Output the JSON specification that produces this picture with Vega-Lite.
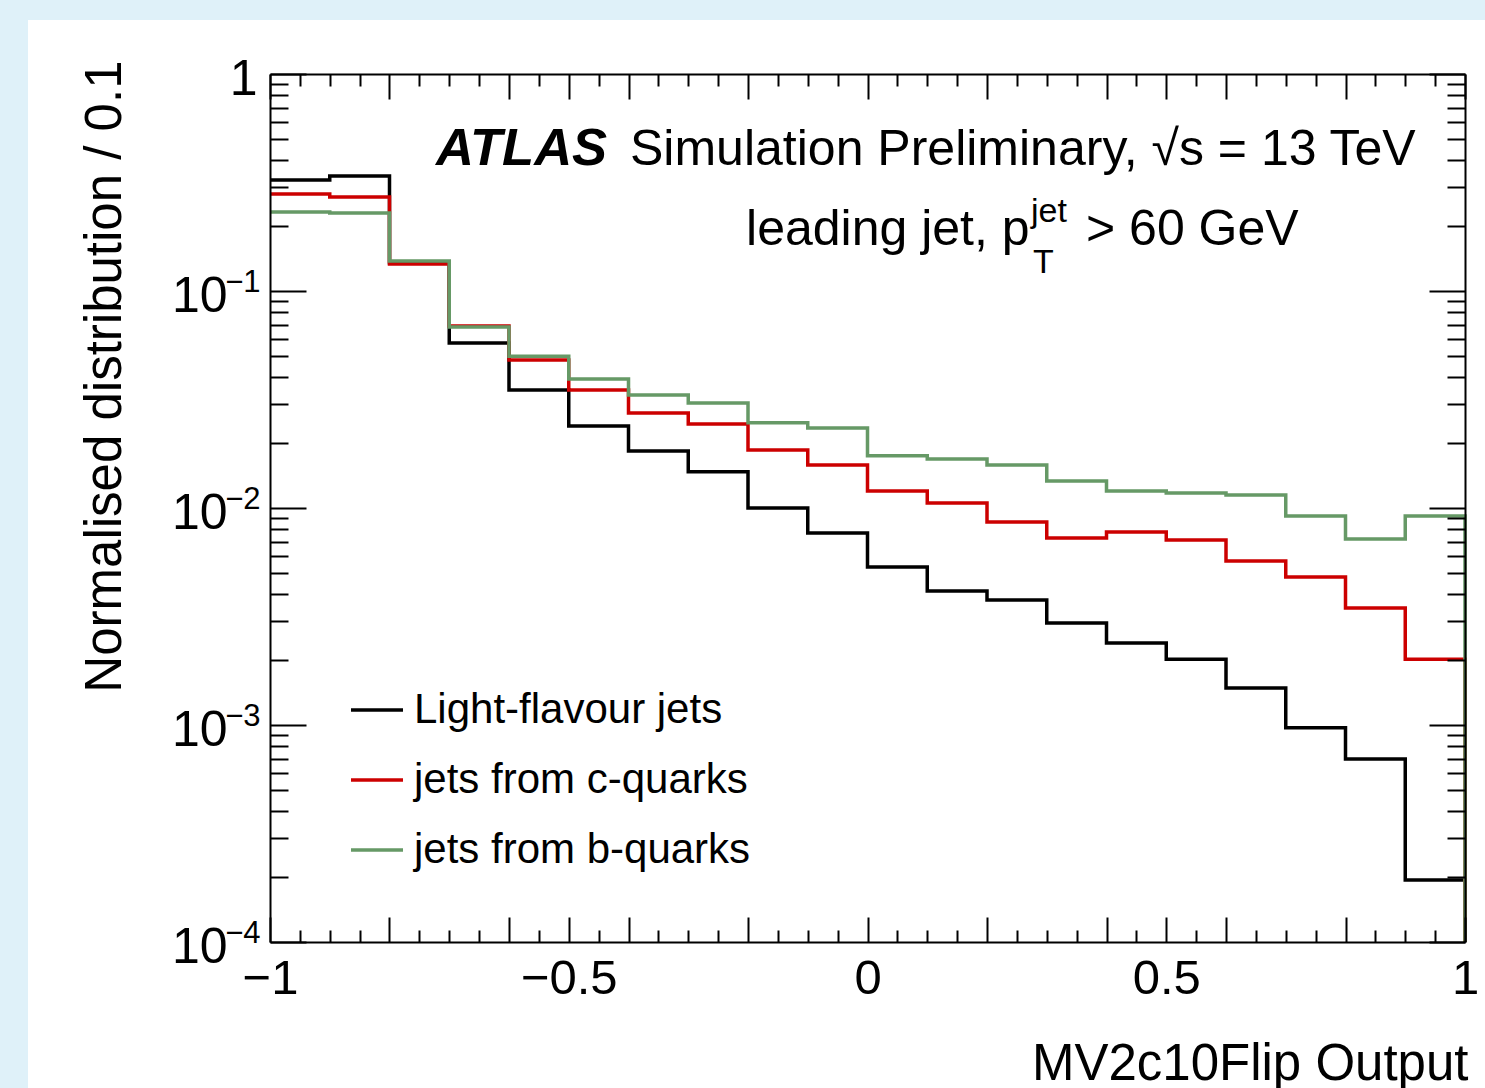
{
  "$schema": "https://vega.github.io/schema/vega-lite/v6.json",
  "width": 1195,
  "height": 868,
  "autosize": {"type": "none"},
  "padding": {"left": 270, "top": 74, "right": 20, "bottom": 146},
  "background": "#dff1f9",
  "config": {
    "view": {"stroke": null},
    "axis": {
      "grid": false,
      "domainColor": "black",
      "domainWidth": 2,
      "tickColor": "black",
      "tickWidth": 2,
      "labelFont": "Liberation Sans",
      "labelColor": "black",
      "titleFont": "Liberation Sans",
      "titleColor": "black",
      "titleFontWeight": "normal",
      "labelOverlap": false,
      "labelFlush": false
    },
    "text": {"font": "Liberation Sans", "color": "black"}
  },
  "resolve": {"axis": {"x": "independent", "y": "independent"}},
  "layer": [
    {
      "data": {"values": [{}]},
      "mark": {"type": "rect", "fill": "white"},
      "encoding": {
        "x": {"datum": -1.405, "type": "quantitative", "scale": {"domain": [-1, 1], "nice": false, "zero": false}, "axis": null},
        "x2": {"datum": 1.2},
        "y": {"datum": 1.774, "type": "quantitative", "scale": {"type": "log", "domain": [0.0001, 1], "nice": false}, "axis": null},
        "y2": {"datum": 0.000001}
      }
    },
    {
      "data": {"values": [
        {"flavour": "Light-flavour jets", "x": -1, "y": 0.325},
        {"flavour": "Light-flavour jets", "x": -0.9, "y": 0.339},
        {"flavour": "Light-flavour jets", "x": -0.8, "y": 0.135},
        {"flavour": "Light-flavour jets", "x": -0.7, "y": 0.0576},
        {"flavour": "Light-flavour jets", "x": -0.6, "y": 0.035},
        {"flavour": "Light-flavour jets", "x": -0.5, "y": 0.0239},
        {"flavour": "Light-flavour jets", "x": -0.4, "y": 0.0183},
        {"flavour": "Light-flavour jets", "x": -0.3, "y": 0.0147},
        {"flavour": "Light-flavour jets", "x": -0.2, "y": 0.0100},
        {"flavour": "Light-flavour jets", "x": -0.1, "y": 0.00767},
        {"flavour": "Light-flavour jets", "x": 0, "y": 0.00535},
        {"flavour": "Light-flavour jets", "x": 0.1, "y": 0.00415},
        {"flavour": "Light-flavour jets", "x": 0.2, "y": 0.00377},
        {"flavour": "Light-flavour jets", "x": 0.3, "y": 0.00295},
        {"flavour": "Light-flavour jets", "x": 0.4, "y": 0.00239},
        {"flavour": "Light-flavour jets", "x": 0.5, "y": 0.00201},
        {"flavour": "Light-flavour jets", "x": 0.6, "y": 0.00148},
        {"flavour": "Light-flavour jets", "x": 0.7, "y": 0.00097},
        {"flavour": "Light-flavour jets", "x": 0.8, "y": 0.000697},
        {"flavour": "Light-flavour jets", "x": 0.9, "y": 0.000193},
        {"flavour": "Light-flavour jets", "x": 1, "y": 0.0001},
        {"flavour": "jets from c-quarks", "x": -1, "y": 0.28},
        {"flavour": "jets from c-quarks", "x": -0.9, "y": 0.271},
        {"flavour": "jets from c-quarks", "x": -0.8, "y": 0.133},
        {"flavour": "jets from c-quarks", "x": -0.7, "y": 0.069},
        {"flavour": "jets from c-quarks", "x": -0.6, "y": 0.0481},
        {"flavour": "jets from c-quarks", "x": -0.5, "y": 0.035},
        {"flavour": "jets from c-quarks", "x": -0.4, "y": 0.0274},
        {"flavour": "jets from c-quarks", "x": -0.3, "y": 0.0244},
        {"flavour": "jets from c-quarks", "x": -0.2, "y": 0.0185},
        {"flavour": "jets from c-quarks", "x": -0.1, "y": 0.0158},
        {"flavour": "jets from c-quarks", "x": 0, "y": 0.01197},
        {"flavour": "jets from c-quarks", "x": 0.1, "y": 0.01054},
        {"flavour": "jets from c-quarks", "x": 0.2, "y": 0.00862},
        {"flavour": "jets from c-quarks", "x": 0.3, "y": 0.00728},
        {"flavour": "jets from c-quarks", "x": 0.4, "y": 0.00775},
        {"flavour": "jets from c-quarks", "x": 0.5, "y": 0.00713},
        {"flavour": "jets from c-quarks", "x": 0.6, "y": 0.0057},
        {"flavour": "jets from c-quarks", "x": 0.7, "y": 0.00481},
        {"flavour": "jets from c-quarks", "x": 0.8, "y": 0.00346},
        {"flavour": "jets from c-quarks", "x": 0.9, "y": 0.00201},
        {"flavour": "jets from c-quarks", "x": 1, "y": 0.0001},
        {"flavour": "jets from b-quarks", "x": -1, "y": 0.231},
        {"flavour": "jets from b-quarks", "x": -0.9, "y": 0.229},
        {"flavour": "jets from b-quarks", "x": -0.8, "y": 0.1375},
        {"flavour": "jets from b-quarks", "x": -0.7, "y": 0.0683},
        {"flavour": "jets from b-quarks", "x": -0.6, "y": 0.0501},
        {"flavour": "jets from b-quarks", "x": -0.5, "y": 0.0393},
        {"flavour": "jets from b-quarks", "x": -0.4, "y": 0.0332},
        {"flavour": "jets from b-quarks", "x": -0.3, "y": 0.0305},
        {"flavour": "jets from b-quarks", "x": -0.2, "y": 0.0247},
        {"flavour": "jets from b-quarks", "x": -0.1, "y": 0.0234},
        {"flavour": "jets from b-quarks", "x": 0, "y": 0.0174},
        {"flavour": "jets from b-quarks", "x": 0.1, "y": 0.0168},
        {"flavour": "jets from b-quarks", "x": 0.2, "y": 0.0158},
        {"flavour": "jets from b-quarks", "x": 0.3, "y": 0.0133},
        {"flavour": "jets from b-quarks", "x": 0.4, "y": 0.01197},
        {"flavour": "jets from b-quarks", "x": 0.5, "y": 0.01173},
        {"flavour": "jets from b-quarks", "x": 0.6, "y": 0.01148},
        {"flavour": "jets from b-quarks", "x": 0.7, "y": 0.00919},
        {"flavour": "jets from b-quarks", "x": 0.8, "y": 0.0072},
        {"flavour": "jets from b-quarks", "x": 0.9, "y": 0.00919},
        {"flavour": "jets from b-quarks", "x": 1, "y": 0.0001}
      ]},
      "mark": {"type": "line", "interpolate": "step-after", "strokeWidth": 3.5, "strokeJoin": "miter", "strokeCap": "butt"},
      "encoding": {
        "x": {
          "field": "x", "type": "quantitative",
          "scale": {"domain": [-1, 1], "nice": false, "zero": false},
          "axis": {
            "zindex": 2,
            "orient": "bottom",
            "values": [-1, -0.8, -0.6, -0.5, -0.4, -0.2, 0, 0.2, 0.4, 0.5, 0.6, 0.8, 1],
            "tickSize": -25,
            "labelExpr": "datum.value == -1 ? '−1' : datum.value == -0.5 ? '−0.5' : datum.value == 0 ? '0' : datum.value == 0.5 ? '0.5' : datum.value == 1 ? '1' : ''",
            "labelFontSize": 49,
            "labelPadding": 76,
            "labelBaseline": "alphabetic",
            "labelAlign": "center",
            "title": "MV2c10Flip Output",
            "titleFontSize": 51,
            "titleAlign": "right",
            "titleBaseline": "alphabetic",
            "titleX": 1198,
            "titleY": 137
          }
        },
        "y": {
          "field": "y", "type": "quantitative",
          "scale": {"type": "log", "domain": [0.0001, 1], "nice": false},
          "axis": {
            "zindex": 2,
            "orient": "left",
            "values": [0.0001, 0.001, 0.01, 0.1, 1],
            "tickSize": -36,
            "labelExpr": "datum.value == 1 ? '' : '10'",
            "labelFontSize": 50,
            "labelPadding": 79,
            "labelAlign": "right",
            "labelBaseline": "middle",
            "labelOffset": 5,
            "title": "Normalised distribution / 0.1",
            "titleFontSize": 51,
            "titleAngle": 270,
            "titleAlign": "right",
            "titleBaseline": "alphabetic",
            "titleX": -150,
            "titleY": -14
          }
        },
        "color": {
          "field": "flavour", "type": "nominal",
          "scale": {"domain": ["Light-flavour jets", "jets from c-quarks", "jets from b-quarks"], "range": ["#000000", "#cc0000", "#669966"]},
          "legend": {
            "orient": "none", "legendX": 79, "legendY": 608, "title": null,
            "symbolType": "stroke", "symbolSize": 2704, "symbolStrokeWidth": 3.5,
            "labelFontSize": 42, "labelFont": "Liberation Sans", "labelColor": "black",
            "labelOffset": 9, "rowPadding": 21, "padding": 0, "labelLimit": 0
          }
        }
      }
    },
    {
      "data": {"values": [{}]},
      "mark": {"type": "text", "text": "ATLAS", "fontSize": 52.5, "fontStyle": "italic", "fontWeight": "bold", "align": "left", "baseline": "alphabetic"},
      "encoding": {
        "x": {"datum": -0.7222, "type": "quantitative", "scale": {"domain": [-1, 1], "nice": false, "zero": false},
          "axis": {"zindex": 2, "orient": "bottom", "values": [-0.95, -0.9, -0.85, -0.75, -0.7, -0.65, -0.55, -0.45, -0.35, -0.3, -0.25, -0.15, -0.1, -0.05, 0.05, 0.1, 0.15, 0.25, 0.3, 0.35, 0.45, 0.55, 0.65, 0.7, 0.75, 0.85, 0.9, 0.95], "tickSize": -12, "labels": false, "domain": false, "title": null}},
        "y": {"datum": 0.3807, "type": "quantitative", "scale": {"type": "log", "domain": [0.0001, 1], "nice": false},
          "axis": {"zindex": 2, "orient": "left", "values": [0.0002, 0.0003, 0.0004, 0.0005, 0.0006, 0.0007, 0.0008, 0.0009, 0.002, 0.003, 0.004, 0.005, 0.006, 0.007, 0.008, 0.009, 0.02, 0.03, 0.04, 0.05, 0.06, 0.07, 0.08, 0.09, 0.2, 0.3, 0.4, 0.5, 0.6, 0.7, 0.8, 0.9], "tickSize": -18, "labels": false, "domain": false, "title": null}}
      }
    },
    {
      "data": {"values": [{}]},
      "mark": {"type": "text", "text": "Simulation Preliminary, √s = 13 TeV", "fontSize": 50, "align": "left", "baseline": "alphabetic"},
      "encoding": {
        "x": {"datum": -0.3975, "type": "quantitative", "scale": {"domain": [-1, 1], "nice": false, "zero": false},
          "axis": {"zindex": 2, "orient": "top", "values": [-1, -0.8, -0.6, -0.5, -0.4, -0.2, 0, 0.2, 0.4, 0.5, 0.6, 0.8, 1], "tickSize": -25, "labels": false, "title": null}},
        "y": {"datum": 0.3807, "type": "quantitative", "scale": {"type": "log", "domain": [0.0001, 1], "nice": false},
          "axis": {"zindex": 2, "orient": "right", "values": [0.0001, 0.001, 0.01, 0.1, 1], "tickSize": -36, "labels": false, "title": null}}
      }
    },
    {
      "data": {"values": [{}]},
      "mark": {"type": "text", "text": "leading jet, p", "fontSize": 50, "align": "left", "baseline": "alphabetic"},
      "encoding": {
        "x": {"datum": -0.2033, "type": "quantitative", "scale": {"domain": [-1, 1], "nice": false, "zero": false},
          "axis": {"zindex": 2, "orient": "top", "values": [-0.95, -0.9, -0.85, -0.75, -0.7, -0.65, -0.55, -0.45, -0.35, -0.3, -0.25, -0.15, -0.1, -0.05, 0.05, 0.1, 0.15, 0.25, 0.3, 0.35, 0.45, 0.55, 0.65, 0.7, 0.75, 0.85, 0.9, 0.95], "tickSize": -12, "labels": false, "domain": false, "title": null}},
        "y": {"datum": 0.163, "type": "quantitative", "scale": {"type": "log", "domain": [0.0001, 1], "nice": false},
          "axis": {"zindex": 2, "orient": "right", "values": [0.0002, 0.0003, 0.0004, 0.0005, 0.0006, 0.0007, 0.0008, 0.0009, 0.002, 0.003, 0.004, 0.005, 0.006, 0.007, 0.008, 0.009, 0.02, 0.03, 0.04, 0.05, 0.06, 0.07, 0.08, 0.09, 0.2, 0.3, 0.4, 0.5, 0.6, 0.7, 0.8, 0.9], "tickSize": -18, "labels": false, "domain": false, "title": null}}
      }
    },
    {
      "data": {"values": [{}]},
      "mark": {"type": "text", "text": "jet", "fontSize": 34, "align": "left", "baseline": "alphabetic"},
      "encoding": {
        "x": {"datum": 0.2737, "type": "quantitative", "scale": {"domain": [-1, 1], "nice": false, "zero": false}, "axis": null},
        "y": {"datum": 0.208, "type": "quantitative", "scale": {"type": "log", "domain": [0.0001, 1], "nice": false},
          "axis": {"zindex": 2, "orient": "left", "values": [0.0001, 0.001, 0.01, 0.1], "ticks": false, "domain": false,
            "labelExpr": "datum.value == 0.1 ? '−1' : datum.value == 0.01 ? '−2' : datum.value == 0.001 ? '−3' : '−4'",
            "labelFontSize": 31, "labelPadding": 10, "labelAlign": "right", "labelBaseline": "middle", "labelOffset": -9, "title": null}}
      }
    },
    {
      "data": {"values": [{}]},
      "mark": {"type": "text", "text": "T", "fontSize": 34, "align": "left", "baseline": "alphabetic"},
      "encoding": {
        "x": {"datum": 0.277, "type": "quantitative", "scale": {"domain": [-1, 1], "nice": false, "zero": false}, "axis": null},
        "y": {"datum": 0.121, "type": "quantitative", "scale": {"type": "log", "domain": [0.0001, 1], "nice": false},
          "axis": {"zindex": 2, "orient": "left", "values": [1], "ticks": false, "domain": false,
            "labelExpr": "'1'", "labelFontSize": 50, "labelPadding": 13, "labelAlign": "right", "labelBaseline": "middle", "labelOffset": 5, "title": null}}
      }
    },
    {
      "data": {"values": [{}]},
      "mark": {"type": "text", "text": "> 60 GeV", "fontSize": 50, "align": "left", "baseline": "alphabetic"},
      "encoding": {
        "x": {"datum": 0.3657, "type": "quantitative", "scale": {"domain": [-1, 1], "nice": false, "zero": false}, "axis": null},
        "y": {"datum": 0.163, "type": "quantitative", "scale": {"type": "log", "domain": [0.0001, 1], "nice": false}, "axis": null}
      }
    }
  ]
}
